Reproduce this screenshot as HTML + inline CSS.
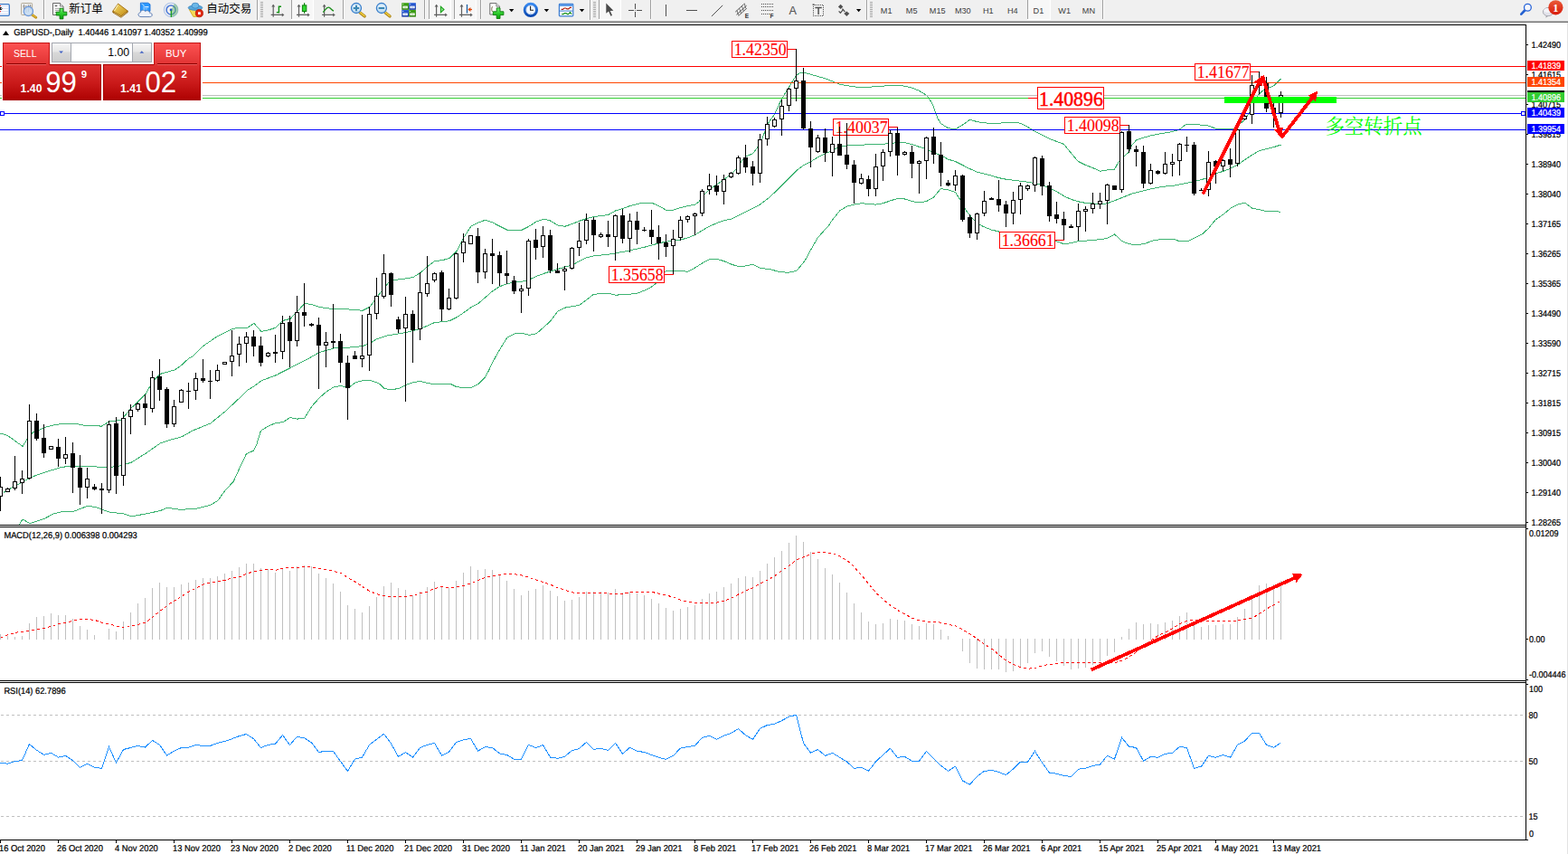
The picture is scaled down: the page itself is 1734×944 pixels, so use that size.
<!DOCTYPE html>
<html><head><meta charset="utf-8"><title>GBPUSD Daily</title>
<style>
html,body{margin:0;padding:0;background:#fff;}
body{width:1734px;height:944px;position:relative;overflow:hidden;font-family:"Liberation Sans",sans-serif;}
.abs{position:absolute}
</style></head><body>
<svg width="1734" height="944" viewBox="0 0 1734 944" style="position:absolute;left:0;top:0" shape-rendering="crispEdges" font-family="Liberation Sans, sans-serif">
<defs><clipPath id="cm"><rect x="0" y="28" width="1687" height="552"/></clipPath><clipPath id="cd"><rect x="0" y="583" width="1687" height="169"/></clipPath></defs>
<g clip-path="url(#cm)">
<polyline points="0.5,479.3 6.4,480.4 13.9,485.3 25.0,493.4 30.2,485.3 36.9,477.5 45.0,474.5 52.4,471.5 61.3,469.5 69.5,468.4 84.3,468.4 94.0,470.4 108.8,470.4 111.8,471.5 121.1,465.7 134.0,464.5 145.1,451.2 161.1,435.6 169.1,421.2 177.1,413.4 193.2,408.9 201.2,403.4 209.2,395.6 212.5,394.7 224.6,382.6 240.7,371.5 257.0,363.5 265.0,362.1 272.9,362.9 280.9,357.4 289.0,366.5 297.0,364.9 305.1,362.1 312.9,354.4 321.0,352.4 328.8,344.3 336.9,335.3 344.9,336.7 353.0,339.3 369.1,341.9 385.0,341.9 400.9,343.3 409.0,339.3 417.0,328.2 424.9,318.2 428.6,313.6 433.0,309.9 449.1,307.9 456.9,306.5 465.0,301.5 473.0,294.4 480.9,288.4 488.9,287.8 497.0,285.4 505.0,277.7 513.1,262.2 520.9,250.2 529.0,246.1 536.8,243.1 544.9,246.1 552.9,250.2 561.0,254.2 577.1,254.2 585.0,250.2 593.0,245.1 601.1,242.1 608.9,244.1 617.0,249.2 625.0,250.2 632.9,247.5 640.6,244.3 648.4,241.7 656.5,239.6 672.6,237.6 680.4,233.0 688.5,230.6 696.5,227.6 704.6,225.5 712.4,224.1 720.5,224.1 728.5,227.6 736.6,232.2 744.4,232.2 752.5,229.6 760.5,227.6 768.6,226.2 773.4,222.5 776.4,217.5 784.5,209.4 792.5,204.0 800.6,198.4 808.4,192.7 813.7,187.3 816.5,182.3 824.5,173.2 832.4,169.8 836.8,164.2 842.5,154.6 848.6,137.5 856.4,126.4 864.5,109.3 872.5,96.2 880.6,83.1 884.8,80.7 888.4,80.1 896.5,82.1 904.5,84.6 912.6,86.8 920.4,89.8 928.5,93.2 936.5,94.6 944.6,95.8 952.4,96.8 960.5,96.2 968.5,95.8 976.6,95.2 984.4,94.2 992.5,94.2 1000.5,95.2 1008.6,97.2 1016.4,100.3 1024.5,105.3 1029.7,112.3 1032.5,118.4 1036.8,130.5 1040.4,136.5 1048.5,141.7 1056.6,142.7 1064.4,138.2 1072.5,132.2 1080.5,134.6 1088.6,135.8 1096.4,136.6 1104.5,136.2 1112.5,135.6 1120.6,135.2 1128.4,136.2 1136.5,140.3 1144.5,145.3 1152.6,149.3 1160.4,153.3 1168.5,156.4 1176.5,159.4 1184.6,169.4 1192.4,178.5 1200.5,182.5 1208.5,185.5 1216.6,189.2 1224.4,188.0 1232.5,187.2 1236.7,179.5 1240.5,174.5 1248.4,168.4 1251.8,160.4 1256.5,155.0 1264.6,152.2 1272.4,150.0 1280.5,148.2 1288.5,147.0 1296.6,145.5 1304.4,143.1 1308.8,139.5 1312.5,137.1 1316.9,137.1 1320.5,137.5 1328.6,138.1 1336.4,139.1 1344.5,142.1 1352.5,142.5 1360.6,142.9 1364.8,142.1 1375.9,132.9 1382.3,123.7 1390.6,106.1 1396.1,100.6 1403.5,96.9 1409.1,94.6 1416.4,87.2" fill="none" stroke="#3cb371" stroke-width="1" />
<polyline points="3.6,544.6 9.4,541.3 16.7,536.8 25.0,533.1 33.2,527.9 48.8,522.4 65.0,517.3 73.0,515.7 89.0,515.3 105.1,515.7 113.1,516.8 129.1,515.7 145.1,511.3 161.1,501.2 177.1,490.1 185.1,487.2 201.2,482.8 212.5,476.2 232.6,468.1 248.7,455.1 264.8,440.0 272.9,431.9 280.9,426.9 289.0,420.8 305.1,414.8 321.0,406.7 336.9,398.7 353.0,389.6 369.1,385.0 385.0,384.2 400.9,382.6 409.0,379.6 417.0,374.5 424.9,372.1 428.6,370.9 441.0,368.9 449.1,367.5 456.9,365.5 465.0,363.5 473.0,359.9 480.9,356.4 488.9,355.8 497.0,354.8 505.0,350.8 513.1,345.4 520.9,339.7 529.0,335.3 536.8,328.7 544.9,321.6 552.9,316.6 561.0,313.6 569.1,312.0 577.1,311.2 585.0,309.1 593.0,305.5 601.1,302.5 608.9,299.9 617.0,297.5 625.0,295.0 632.9,293.0 640.6,288.6 648.4,284.9 656.5,282.9 672.6,281.3 680.4,279.9 696.5,276.9 712.4,273.3 720.5,271.2 728.5,268.8 736.6,267.2 744.4,266.4 752.5,265.2 760.5,262.8 768.6,259.8 776.4,254.7 784.5,250.3 792.5,246.7 800.6,243.7 808.4,242.3 816.5,238.2 824.5,234.2 832.4,230.2 840.5,226.1 848.6,220.0 856.4,213.0 864.5,204.9 872.5,196.9 880.6,188.8 888.4,182.8 896.5,178.8 904.5,173.7 912.6,169.7 920.4,166.7 928.5,161.7 936.5,161.0 944.6,160.6 952.4,160.2 960.5,159.8 968.5,159.6 976.6,159.2 984.4,158.6 992.5,157.6 1000.5,157.6 1008.6,159.6 1016.4,162.3 1024.5,164.7 1032.5,168.7 1040.4,171.7 1048.5,176.1 1056.6,178.5 1064.4,182.5 1072.5,186.6 1080.5,190.2 1088.6,192.2 1096.4,194.2 1104.5,196.6 1112.5,198.2 1120.6,199.2 1128.4,200.2 1136.5,201.2 1144.5,202.7 1152.6,204.7 1160.4,207.7 1168.5,211.7 1176.5,216.7 1184.6,220.4 1192.4,222.8 1200.5,224.4 1208.5,224.8 1216.6,225.8 1224.4,224.8 1232.5,221.8 1240.5,218.6 1252.0,214.0 1263.6,211.1 1275.1,208.3 1286.6,206.2 1298.2,205.1 1309.7,202.8 1321.2,200.5 1333.9,197.1 1336.4,195.3 1344.5,191.8 1352.5,189.4 1360.6,186.4 1368.4,182.4 1376.5,176.7 1384.5,171.3 1392.6,166.7 1400.4,164.7 1408.5,162.7 1416.5,160.0" fill="none" stroke="#3cb371" stroke-width="1" />
<polyline points="21.5,579.7 24.9,574.0 33.2,578.7 49.2,573.3 59.0,568.0 70.7,565.2 81.9,565.2 96.5,559.4 105.8,560.4 120.5,566.0 137.1,568.0 145.1,570.9 161.1,568.0 177.1,564.6 185.1,561.3 199.9,563.4 218.0,562.1 232.2,558.5 240.6,553.7 249.0,542.1 258.1,532.4 265.8,515.6 272.5,501.6 280.7,498.1 283.9,491.0 288.4,476.2 296.8,471.0 305.1,467.5 312.9,466.7 321.0,461.5 328.8,463.1 336.9,462.1 344.9,449.0 353.0,440.0 361.1,432.9 369.1,427.9 377.0,426.5 385.0,428.9 393.1,422.9 400.9,420.8 409.0,420.4 417.0,422.9 420.5,425.0 424.8,429.4 430.0,430.3 435.8,430.3 441.0,429.4 449.1,425.3 454.8,423.4 458.6,422.4 464.4,421.3 472.0,423.4 477.7,424.3 498.2,424.3 503.9,427.2 510.1,428.4 521.1,428.4 529.2,424.3 536.3,417.0 540.5,409.6 544.9,400.1 552.9,386.0 561.0,372.9 569.1,368.9 577.1,368.3 585.0,370.3 593.0,368.9 601.1,361.9 608.9,354.8 617.0,343.8 625.0,340.1 632.9,338.7 640.6,337.3 650.6,330.0 656.5,325.2 672.6,324.2 680.4,326.2 696.5,325.2 704.6,324.2 712.4,321.2 720.5,317.1 725.1,313.5 731.1,305.1 736.6,299.6 744.4,299.0 752.5,299.0 760.5,300.4 768.6,296.0 776.4,291.0 784.5,286.9 792.5,286.3 800.6,288.6 808.4,292.0 816.5,294.6 824.5,294.0 832.1,292.3 841.0,296.4 850.7,297.5 861.8,300.4 871.5,301.4 881.1,299.2 890.0,288.4 899.7,270.6 904.1,263.2 913.7,252.1 916.0,250.0 920.4,243.2 928.5,233.1 936.5,228.1 944.6,226.1 952.4,224.7 960.5,225.5 968.5,226.1 976.6,224.7 984.4,222.0 992.5,219.4 1000.5,220.0 1008.6,222.6 1016.4,224.0 1024.5,222.6 1032.5,218.0 1040.4,208.6 1048.5,209.7 1056.6,212.7 1060.6,218.8 1064.4,224.8 1068.6,232.9 1072.5,237.9 1076.7,242.9 1080.5,246.9 1088.6,251.0 1096.4,254.0 1104.5,256.0 1114.9,258.0 1127.0,260.0 1139.1,262.0 1151.2,264.0 1161.2,265.5 1169.3,267.1 1176.5,269.7 1184.6,268.7 1192.4,266.7 1200.5,266.1 1208.5,265.5 1216.6,264.7 1224.4,263.4 1232.5,259.0 1236.7,262.6 1240.5,266.5 1248.6,269.7 1257.8,270.8 1265.9,269.4 1275.1,265.9 1285.5,264.4 1298.2,264.4 1303.9,266.5 1313.7,266.5 1321.2,263.1 1329.3,259.0 1336.2,252.7 1344.3,242.9 1353.5,236.5 1361.6,229.6 1368.5,226.1 1376.6,224.2 1384.7,230.2 1390.4,231.3 1399.7,233.3 1411.2,233.3 1416.4,234.6" fill="none" stroke="#3cb371" stroke-width="1" />
<rect x="0" y="105" width="1687" height="1" fill="#c0c0c0"/>
<rect x="0" y="73" width="1687" height="1" fill="#ff0000"/>
<rect x="0" y="91" width="1687" height="1" fill="#ff4500"/>
<rect x="0" y="108" width="1137" height="1" fill="#32cd32"/>
<rect x="1137" y="108" width="10" height="1" fill="#ff0000"/>
<rect x="1221" y="108" width="466" height="1" fill="#32cd32"/>
<rect x="0" y="125" width="1687" height="1" fill="#0000ff"/>
<rect x="0" y="143" width="1687" height="1" fill="#0000ff"/>
<rect x="0" y="123" width="5" height="5" fill="#0000ff"/>
<rect x="1" y="124" width="3" height="3" fill="#ffffff"/>
<rect x="1682" y="123" width="5" height="5" fill="#0000ff"/>
<rect x="1683" y="124" width="3" height="3" fill="#ffffff"/>
</g>
<rect x="809" y="45" width="62" height="19" fill="#ff0000"/>
<rect x="810" y="46" width="60" height="17" fill="#ffffff"/>
<text transform="translate(811.7,61) scale(0.94,1)" font-family="Liberation Serif, serif" font-size="19" fill="#ff0000" stroke="#ff0000" stroke-width="0.12" shape-rendering="auto">1.42350</text>
<rect x="871" y="54" width="10" height="1" fill="#ff0000"/>
<rect x="921" y="131" width="62" height="19" fill="#ff0000"/>
<rect x="922" y="132" width="60" height="17" fill="#ffffff"/>
<text transform="translate(923.7,147) scale(0.94,1)" font-family="Liberation Serif, serif" font-size="19" fill="#ff0000" stroke="#ff0000" stroke-width="0.12" shape-rendering="auto">1.40037</text>
<rect x="983" y="140" width="10" height="1" fill="#ff0000"/>
<rect x="673" y="294" width="62" height="19" fill="#ff0000"/>
<rect x="674" y="295" width="60" height="17" fill="#ffffff"/>
<text transform="translate(675.7,310) scale(0.94,1)" font-family="Liberation Serif, serif" font-size="19" fill="#ff0000" stroke="#ff0000" stroke-width="0.12" shape-rendering="auto">1.35658</text>
<rect x="735" y="303" width="10" height="1" fill="#ff0000"/>
<rect x="1105" y="256" width="62" height="19" fill="#ff0000"/>
<rect x="1106" y="257" width="60" height="17" fill="#ffffff"/>
<text transform="translate(1107.7,272) scale(0.94,1)" font-family="Liberation Serif, serif" font-size="19" fill="#ff0000" stroke="#ff0000" stroke-width="0.12" shape-rendering="auto">1.36661</text>
<rect x="1167" y="265" width="10" height="1" fill="#ff0000"/>
<rect x="1177" y="129" width="62" height="19" fill="#ff0000"/>
<rect x="1178" y="130" width="60" height="17" fill="#ffffff"/>
<text transform="translate(1179.7,145) scale(0.94,1)" font-family="Liberation Serif, serif" font-size="19" fill="#ff0000" stroke="#ff0000" stroke-width="0.12" shape-rendering="auto">1.40098</text>
<rect x="1239" y="138" width="10" height="1" fill="#ff0000"/>
<rect x="1321" y="70" width="62" height="19" fill="#ff0000"/>
<rect x="1322" y="71" width="60" height="17" fill="#ffffff"/>
<text transform="translate(1323.7,86) scale(0.94,1)" font-family="Liberation Serif, serif" font-size="19" fill="#ff0000" stroke="#ff0000" stroke-width="0.12" shape-rendering="auto">1.41677</text>
<rect x="1383" y="79" width="10" height="1" fill="#ff0000"/>
<rect x="1147" y="96" width="74" height="25" fill="#ff0000"/>
<rect x="1148" y="97" width="72" height="23" fill="#ffffff"/>
<text transform="translate(1149.0,116.9) scale(0.935,1)" font-family="Liberation Serif, serif" font-size="23.3" fill="#ff0000" stroke="#ff0000" stroke-width="0.5" shape-rendering="auto">1.40896</text>
<g clip-path="url(#cm)">
<path d="M0 527h1v38h-1zM-2 538h5v11h-5zM8 539h1v5h-1zM6 540h5v4h-5zM16 504h1v38h-1zM14 532h5v8h-5zM24 520h1v26h-1zM22 529h5v5h-5zM32 447h1v83h-1zM30 465h5v64h-5zM40 457h1v30h-1zM38 465h5v20h-5zM48 469h1v37h-1zM46 484h5v17h-5zM56 493h1v4h-1zM54 493h5v4h-5zM64 485h1v31h-1zM62 494h5v13h-5zM72 483h1v30h-1zM70 502h5v5h-5zM80 489h1v56h-1zM78 501h5v16h-5zM88 503h1v55h-1zM86 517h5v22h-5zM96 517h1v34h-1zM94 529h5v10h-5zM104 535h1v7h-1zM102 538h5v3h-5zM112 534h1v34h-1zM110 540h5v2h-5zM120 465h1v80h-1zM118 469h5v73h-5zM128 461h1v85h-1zM126 468h5v58h-5zM136 455h1v82h-1zM134 462h5v64h-5zM144 447h1v33h-1zM142 453h5v8h-5zM152 445h1v10h-1zM150 446h5v7h-5zM160 436h1v34h-1zM158 446h5v5h-5zM168 410h1v46h-1zM166 417h5v35h-5zM176 397h1v46h-1zM174 416h5v15h-5zM184 428h1v45h-1zM182 430h5v39h-5zM192 442h1v30h-1zM190 449h5v20h-5zM200 430h1v15h-1zM198 431h5v14h-5zM208 423h1v29h-1zM206 432h5v1h-5zM216 412h1v30h-1zM214 418h5v14h-5zM224 397h1v26h-1zM222 418h5v3h-5zM232 409h1v32h-1zM230 421h5v1h-5zM240 403h1v19h-1zM238 409h5v12h-5zM248 400h1v3h-1zM246 400h5v3h-5zM256 365h1v51h-1zM254 393h5v7h-5zM264 372h1v33h-1zM262 380h5v12h-5zM272 367h1v34h-1zM270 372h5v8h-5zM280 365h1v29h-1zM278 372h5v11h-5zM288 372h1v33h-1zM286 382h5v19h-5zM296 389h1v6h-1zM294 390h5v4h-5zM304 370h1v31h-1zM302 389h5v2h-5zM312 349h1v48h-1zM310 357h5v32h-5zM320 349h1v57h-1zM318 356h5v21h-5zM328 327h1v56h-1zM326 345h5v32h-5zM336 313h1v48h-1zM334 345h5v4h-5zM344 357h1v4h-1zM342 358h5v2h-5zM352 351h1v79h-1zM350 359h5v23h-5zM360 367h1v39h-1zM358 378h5v4h-5zM368 336h1v49h-1zM366 377h5v2h-5zM376 369h1v54h-1zM374 377h5v24h-5zM384 393h1v71h-1zM382 401h5v28h-5zM392 388h1v9h-1zM390 393h5v4h-5zM400 348h1v58h-1zM398 393h5v4h-5zM408 339h1v71h-1zM406 347h5v46h-5zM416 307h1v46h-1zM414 327h5v20h-5zM424 281h1v49h-1zM422 302h5v26h-5zM432 301h1v38h-1zM430 302h5v24h-5zM440 350h1v18h-1zM438 353h5v11h-5zM448 328h1v116h-1zM446 347h5v16h-5zM456 343h1v58h-1zM454 347h5v18h-5zM464 301h1v75h-1zM462 323h5v41h-5zM472 283h1v45h-1zM470 313h5v12h-5zM480 301h1v11h-1zM478 302h5v8h-5zM488 299h1v56h-1zM486 301h5v41h-5zM496 319h1v24h-1zM494 329h5v13h-5zM504 279h1v52h-1zM502 280h5v50h-5zM512 258h1v32h-1zM510 267h5v13h-5zM520 260h1v10h-1zM518 260h5v10h-5zM528 252h1v61h-1zM526 261h5v40h-5zM536 275h1v33h-1zM534 280h5v21h-5zM544 264h1v50h-1zM542 280h5v3h-5zM552 278h1v38h-1zM550 282h5v20h-5zM560 277h1v37h-1zM558 302h5v3h-5zM568 305h1v20h-1zM566 310h5v12h-5zM576 315h1v31h-1zM574 319h5v3h-5zM584 264h1v63h-1zM582 266h5v53h-5zM592 253h1v34h-1zM590 265h5v9h-5zM600 250h1v35h-1zM598 260h5v13h-5zM608 254h1v48h-1zM606 260h5v39h-5zM616 291h1v11h-1zM614 299h5v3h-5zM624 294h1v27h-1zM622 297h5v3h-5zM632 273h1v25h-1zM630 274h5v23h-5zM640 246h1v37h-1zM638 266h5v8h-5zM648 236h1v34h-1zM646 243h5v23h-5zM656 240h1v38h-1zM654 243h5v17h-5zM664 257h1v6h-1zM662 259h5v3h-5zM672 244h1v29h-1zM670 259h5v3h-5zM680 237h1v51h-1zM678 238h5v24h-5zM688 231h1v38h-1zM686 238h5v26h-5zM696 236h1v43h-1zM694 244h5v20h-5zM704 234h1v36h-1zM702 244h5v10h-5zM712 251h1v5h-1zM710 254h5v1h-5zM720 232h1v38h-1zM718 254h5v8h-5zM728 249h1v38h-1zM726 262h5v7h-5zM736 259h1v25h-1zM734 268h5v5h-5zM744 254h1v49h-1zM742 264h5v8h-5zM752 239h1v27h-1zM750 243h5v20h-5zM760 238h1v8h-1zM758 239h5v4h-5zM768 235h1v25h-1zM766 236h5v3h-5zM776 209h1v30h-1zM774 211h5v25h-5zM784 192h1v23h-1zM782 205h5v5h-5zM792 194h1v22h-1zM790 205h5v7h-5zM800 193h1v33h-1zM798 198h5v14h-5zM808 190h1v7h-1zM806 191h5v5h-5zM816 172h1v21h-1zM814 174h5v18h-5zM824 160h1v31h-1zM822 174h5v11h-5zM832 178h1v27h-1zM830 184h5v8h-5zM840 148h1v54h-1zM838 154h5v38h-5zM848 129h1v32h-1zM846 137h5v17h-5zM856 130h1v11h-1zM854 132h5v8h-5zM864 110h1v40h-1zM862 117h5v15h-5zM872 97h1v26h-1zM870 98h5v19h-5zM880 54h1v58h-1zM878 89h5v9h-5zM888 75h1v68h-1zM886 89h5v53h-5zM896 134h1v51h-1zM894 142h5v21h-5zM904 149h1v20h-1zM902 152h5v16h-5zM912 142h1v37h-1zM910 152h5v17h-5zM920 151h1v44h-1zM918 159h5v10h-5zM928 140h1v32h-1zM926 159h5v13h-5zM936 136h1v51h-1zM934 171h5v11h-5zM944 177h1v48h-1zM942 182h5v20h-5zM952 192h1v12h-1zM950 197h5v6h-5zM960 194h1v23h-1zM958 198h5v11h-5zM968 170h1v47h-1zM966 184h5v25h-5zM976 165h1v35h-1zM974 168h5v16h-5zM984 144h1v29h-1zM982 147h5v21h-5zM992 141h1v53h-1zM990 147h5v25h-5zM1000 167h1v5h-1zM998 168h5v3h-5zM1008 161h1v36h-1zM1006 168h5v13h-5zM1016 177h1v37h-1zM1014 178h5v3h-5zM1024 151h1v47h-1zM1022 152h5v26h-5zM1032 141h1v40h-1zM1030 151h5v20h-5zM1040 157h1v49h-1zM1038 171h5v20h-5zM1048 199h1v7h-1zM1046 202h5v3h-5zM1056 188h1v23h-1zM1054 194h5v11h-5zM1064 193h1v52h-1zM1062 194h5v49h-5zM1072 237h1v26h-1zM1070 240h5v18h-5zM1080 235h1v30h-1zM1078 236h5v22h-5zM1088 211h1v28h-1zM1086 222h5v14h-5zM1096 218h1v3h-1zM1094 219h5v2h-5zM1104 199h1v35h-1zM1102 220h5v7h-5zM1112 222h1v29h-1zM1110 226h5v10h-5zM1120 212h1v36h-1zM1118 221h5v15h-5zM1128 202h1v35h-1zM1126 205h5v16h-5zM1136 204h1v7h-1zM1134 205h5v4h-5zM1144 173h1v39h-1zM1142 174h5v31h-5zM1152 172h1v44h-1zM1150 175h5v31h-5zM1160 201h1v44h-1zM1158 205h5v34h-5zM1168 223h1v24h-1zM1166 237h5v5h-5zM1176 234h1v31h-1zM1174 242h5v7h-5zM1184 248h1v3h-1zM1182 250h5v2h-5zM1192 225h1v41h-1zM1190 233h5v18h-5zM1200 228h1v28h-1zM1198 231h5v3h-5zM1208 213h1v23h-1zM1206 225h5v6h-5zM1216 213h1v18h-1zM1214 222h5v4h-5zM1224 203h1v45h-1zM1222 204h5v18h-5zM1232 205h1v5h-1zM1230 205h5v5h-5zM1240 145h1v68h-1zM1238 146h5v64h-5zM1248 138h1v31h-1zM1246 145h5v20h-5zM1256 161h1v23h-1zM1254 165h5v3h-5zM1264 161h1v47h-1zM1262 168h5v35h-5zM1272 181h1v23h-1zM1270 188h5v15h-5zM1280 188h1v5h-1zM1278 189h5v3h-5zM1288 168h1v25h-1zM1286 181h5v11h-5zM1296 170h1v25h-1zM1294 179h5v3h-5zM1304 158h1v36h-1zM1302 159h5v19h-5zM1312 151h1v17h-1zM1310 160h5v1h-5zM1320 157h1v59h-1zM1318 160h5v54h-5zM1328 208h1v3h-1zM1326 210h5v1h-5zM1336 167h1v50h-1zM1334 179h5v31h-5zM1344 177h1v26h-1zM1342 178h5v6h-5zM1352 176h1v13h-1zM1350 177h5v7h-5zM1360 164h1v32h-1zM1358 176h5v6h-5zM1368 143h1v41h-1zM1366 143h5v38h-5zM1376 127h1v6h-1zM1374 128h5v4h-5zM1384 83h1v54h-1zM1382 94h5v33h-5zM1392 79h1v25h-1zM1390 92h5v3h-5zM1400 85h1v39h-1zM1398 92h5v28h-5zM1408 113h1v28h-1zM1406 119h5v7h-5zM1416 101h1v29h-1zM1414 105h5v20h-5z" fill="#000"/>
<path d="M-1 539h3v9h-3zM7 541h3v2h-3zM15 533h3v6h-3zM23 530h3v3h-3zM31 466h3v62h-3zM55 494h3v2h-3zM71 503h3v3h-3zM95 530h3v8h-3zM119 470h3v71h-3zM135 463h3v62h-3zM143 454h3v6h-3zM151 447h3v5h-3zM167 418h3v33h-3zM191 450h3v18h-3zM199 432h3v12h-3zM215 419h3v12h-3zM239 410h3v10h-3zM247 401h3v1h-3zM255 394h3v5h-3zM263 381h3v10h-3zM271 373h3v6h-3zM295 391h3v2h-3zM311 358h3v30h-3zM327 346h3v30h-3zM359 379h3v2h-3zM399 394h3v2h-3zM407 348h3v44h-3zM415 328h3v18h-3zM423 303h3v24h-3zM447 348h3v14h-3zM463 324h3v39h-3zM471 314h3v10h-3zM479 303h3v6h-3zM495 330h3v11h-3zM503 281h3v48h-3zM511 268h3v11h-3zM519 261h3v8h-3zM535 281h3v19h-3zM575 320h3v1h-3zM583 267h3v51h-3zM599 261h3v11h-3zM623 298h3v1h-3zM631 275h3v21h-3zM639 267h3v6h-3zM647 244h3v21h-3zM663 260h3v1h-3zM679 239h3v22h-3zM695 245h3v18h-3zM743 265h3v6h-3zM751 244h3v18h-3zM759 240h3v2h-3zM767 237h3v1h-3zM775 212h3v23h-3zM783 206h3v3h-3zM799 199h3v12h-3zM807 192h3v3h-3zM815 175h3v16h-3zM839 155h3v36h-3zM847 138h3v15h-3zM855 133h3v6h-3zM863 118h3v13h-3zM871 99h3v17h-3zM879 90h3v7h-3zM903 153h3v14h-3zM919 160h3v8h-3zM951 198h3v4h-3zM967 185h3v23h-3zM975 169h3v14h-3zM983 148h3v19h-3zM999 169h3v1h-3zM1015 179h3v1h-3zM1023 153h3v24h-3zM1055 195h3v9h-3zM1079 237h3v20h-3zM1087 223h3v12h-3zM1119 222h3v13h-3zM1127 206h3v14h-3zM1135 206h3v2h-3zM1143 175h3v29h-3zM1191 234h3v16h-3zM1199 232h3v1h-3zM1207 226h3v4h-3zM1215 223h3v2h-3zM1223 205h3v16h-3zM1239 147h3v62h-3zM1271 189h3v13h-3zM1287 182h3v9h-3zM1295 180h3v1h-3zM1303 160h3v17h-3zM1335 180h3v29h-3zM1351 178h3v5h-3zM1367 144h3v36h-3zM1375 129h3v2h-3zM1383 95h3v31h-3zM1391 93h3v1h-3zM1415 106h3v18h-3z" fill="#fff"/>
<rect x="1354" y="107" width="124" height="7" fill="#00ff00"/>
<line x1="1330.2" y1="214.8" x2="1392.2" y2="91.4" stroke="#ff0000" stroke-width="3.8"/>
<polygon points="1396.0,83.8 1396.0,95.5 1386.6,90.8" fill="#ff0000"/>
<line x1="1396.0" y1="83.8" x2="1414.5" y2="144.1" stroke="#ff0000" stroke-width="3.8"/>
<polygon points="1417.0,152.2 1408.9,143.7 1418.9,140.6" fill="#ff0000"/>
<line x1="1417.0" y1="152.2" x2="1452.0" y2="107.1" stroke="#ff0000" stroke-width="3.8"/>
<polygon points="1457.2,100.4 1454.9,111.9 1446.6,105.5" fill="#ff0000"/>
</g>
<text x="1465.4" y="146.7" font-family="Liberation Serif, Noto Serif CJK SC, serif" font-size="21.45" fill="#00ff00" shape-rendering="auto">多空转折点</text>
<rect x="0" y="27" width="1688" height="1" fill="#000"/>
<rect x="1687" y="27" width="1" height="902" fill="#000"/>
<rect x="0" y="580" width="1688" height="1" fill="#000"/>
<rect x="0" y="582" width="1688" height="1" fill="#000"/>
<rect x="0" y="752" width="1688" height="1" fill="#000"/>
<rect x="0" y="754" width="1688" height="1" fill="#000"/>
<rect x="0" y="928" width="1688" height="1" fill="#000"/>
<rect x="1688" y="49" width="2" height="1" fill="#000"/>
<text transform="translate(1693.5,52.9) scale(0.9,1)" font-size="10" fill="#000" stroke="#000" stroke-width="0.24" text-rendering="geometricPrecision" >1.42490</text>
<rect x="1688" y="82" width="2" height="1" fill="#000"/>
<text transform="translate(1693.5,85.9) scale(0.9,1)" font-size="10" fill="#000" stroke="#000" stroke-width="0.24" text-rendering="geometricPrecision" >1.41615</text>
<rect x="1688" y="115" width="2" height="1" fill="#000"/>
<text transform="translate(1693.5,118.9) scale(0.9,1)" font-size="10" fill="#000" stroke="#000" stroke-width="0.24" text-rendering="geometricPrecision" >1.40715</text>
<rect x="1688" y="148" width="2" height="1" fill="#000"/>
<text transform="translate(1693.5,151.9) scale(0.9,1)" font-size="10" fill="#000" stroke="#000" stroke-width="0.24" text-rendering="geometricPrecision" >1.39815</text>
<rect x="1688" y="181" width="2" height="1" fill="#000"/>
<text transform="translate(1693.5,184.9) scale(0.9,1)" font-size="10" fill="#000" stroke="#000" stroke-width="0.24" text-rendering="geometricPrecision" >1.38940</text>
<rect x="1688" y="214" width="2" height="1" fill="#000"/>
<text transform="translate(1693.5,217.9) scale(0.9,1)" font-size="10" fill="#000" stroke="#000" stroke-width="0.24" text-rendering="geometricPrecision" >1.38040</text>
<rect x="1688" y="247" width="2" height="1" fill="#000"/>
<text transform="translate(1693.5,250.9) scale(0.9,1)" font-size="10" fill="#000" stroke="#000" stroke-width="0.24" text-rendering="geometricPrecision" >1.37165</text>
<rect x="1688" y="280" width="2" height="1" fill="#000"/>
<text transform="translate(1693.5,283.9) scale(0.9,1)" font-size="10" fill="#000" stroke="#000" stroke-width="0.24" text-rendering="geometricPrecision" >1.36265</text>
<rect x="1688" y="313" width="2" height="1" fill="#000"/>
<text transform="translate(1693.5,316.9) scale(0.9,1)" font-size="10" fill="#000" stroke="#000" stroke-width="0.24" text-rendering="geometricPrecision" >1.35365</text>
<rect x="1688" y="346" width="2" height="1" fill="#000"/>
<text transform="translate(1693.5,349.9) scale(0.9,1)" font-size="10" fill="#000" stroke="#000" stroke-width="0.24" text-rendering="geometricPrecision" >1.34490</text>
<rect x="1688" y="379" width="2" height="1" fill="#000"/>
<text transform="translate(1693.5,382.9) scale(0.9,1)" font-size="10" fill="#000" stroke="#000" stroke-width="0.24" text-rendering="geometricPrecision" >1.33590</text>
<rect x="1688" y="412" width="2" height="1" fill="#000"/>
<text transform="translate(1693.5,415.9) scale(0.9,1)" font-size="10" fill="#000" stroke="#000" stroke-width="0.24" text-rendering="geometricPrecision" >1.32715</text>
<rect x="1688" y="445" width="2" height="1" fill="#000"/>
<text transform="translate(1693.5,448.9) scale(0.9,1)" font-size="10" fill="#000" stroke="#000" stroke-width="0.24" text-rendering="geometricPrecision" >1.31815</text>
<rect x="1688" y="478" width="2" height="1" fill="#000"/>
<text transform="translate(1693.5,481.9) scale(0.9,1)" font-size="10" fill="#000" stroke="#000" stroke-width="0.24" text-rendering="geometricPrecision" >1.30915</text>
<rect x="1688" y="511" width="2" height="1" fill="#000"/>
<text transform="translate(1693.5,514.9) scale(0.9,1)" font-size="10" fill="#000" stroke="#000" stroke-width="0.24" text-rendering="geometricPrecision" >1.30040</text>
<rect x="1688" y="544" width="2" height="1" fill="#000"/>
<text transform="translate(1693.5,547.9) scale(0.9,1)" font-size="10" fill="#000" stroke="#000" stroke-width="0.24" text-rendering="geometricPrecision" >1.29140</text>
<rect x="1688" y="577" width="2" height="1" fill="#000"/>
<text transform="translate(1693.5,580.9) scale(0.9,1)" font-size="10" fill="#000" stroke="#000" stroke-width="0.24" text-rendering="geometricPrecision" >1.28265</text>
<rect x="1689" y="100" width="41" height="11" fill="#000"/>
<rect x="1689" y="67" width="41" height="11" fill="#ff0000"/>
<text transform="translate(1693.5,75.6) scale(0.9,1)" font-size="10" fill="#fff" stroke="#fff" stroke-width="0.24" text-rendering="geometricPrecision" >1.41839</text>
<rect x="1689" y="85" width="41" height="11" fill="#ff4500"/>
<text transform="translate(1693.5,93.6) scale(0.9,1)" font-size="10" fill="#fff" stroke="#fff" stroke-width="0.24" text-rendering="geometricPrecision" >1.41354</text>
<rect x="1689" y="102" width="41" height="11" fill="#32cd32"/>
<text transform="translate(1693.5,110.6) scale(0.9,1)" font-size="10" fill="#fff" stroke="#fff" stroke-width="0.24" text-rendering="geometricPrecision" >1.40896</text>
<rect x="1689" y="119" width="41" height="11" fill="#0000ff"/>
<text transform="translate(1693.5,127.6) scale(0.9,1)" font-size="10" fill="#fff" stroke="#fff" stroke-width="0.24" text-rendering="geometricPrecision" >1.40439</text>
<rect x="1689" y="137" width="41" height="11" fill="#0000ff"/>
<text transform="translate(1693.5,145.6) scale(0.9,1)" font-size="10" fill="#fff" stroke="#fff" stroke-width="0.24" text-rendering="geometricPrecision" >1.39954</text>
<rect x="1688" y="584" width="2" height="1" fill="#000"/>
<text transform="translate(1691,593) scale(0.9,1)" font-size="10" fill="#000" stroke="#000" stroke-width="0.24" text-rendering="geometricPrecision" >0.01209</text>
<rect x="1688" y="706" width="2" height="1" fill="#000"/>
<text transform="translate(1691,709.8) scale(0.9,1)" font-size="10" fill="#000" stroke="#000" stroke-width="0.24" text-rendering="geometricPrecision" >0.00</text>
<rect x="1688" y="751" width="2" height="1" fill="#000"/>
<text transform="translate(1691,748.6) scale(0.9,1)" font-size="10" fill="#000" stroke="#000" stroke-width="0.24" text-rendering="geometricPrecision" >-0.004446</text>
<rect x="1688" y="756" width="2" height="1" fill="#000"/>
<text transform="translate(1691,765) scale(0.9,1)" font-size="10" fill="#000" stroke="#000" stroke-width="0.24" text-rendering="geometricPrecision" >100</text>
<text transform="translate(1690.5,793.8) scale(0.9,1)" font-size="10" fill="#000" stroke="#000" stroke-width="0.24" text-rendering="geometricPrecision" >80</text>
<text transform="translate(1690.5,844.8) scale(0.9,1)" font-size="10" fill="#000" stroke="#000" stroke-width="0.24" text-rendering="geometricPrecision" >50</text>
<text transform="translate(1690.5,905.8) scale(0.9,1)" font-size="10" fill="#000" stroke="#000" stroke-width="0.24" text-rendering="geometricPrecision" >15</text>
<text transform="translate(1691,925) scale(0.9,1)" font-size="10" fill="#000" stroke="#000" stroke-width="0.24" text-rendering="geometricPrecision" >0</text>
<rect x="1688" y="928" width="2" height="1" fill="#000"/>
<rect x="1733" y="25" width="1" height="919" fill="#e3e3e3"/>
<path d="M0 701h1v6h-1zM8 703h1v4h-1zM16 704h1v3h-1zM24 703h1v4h-1zM32 689h1v18h-1zM40 682h1v25h-1zM48 681h1v26h-1zM56 678h1v29h-1zM64 680h1v27h-1zM72 680h1v27h-1zM80 684h1v23h-1zM88 692h1v15h-1zM96 696h1v11h-1zM104 702h1v5h-1zM120 695h1v12h-1zM128 698h1v9h-1zM136 687h1v20h-1zM144 677h1v30h-1zM152 667h1v40h-1zM160 661h1v46h-1zM168 650h1v57h-1zM176 644h1v63h-1zM184 649h1v58h-1zM192 649h1v58h-1zM200 646h1v61h-1zM208 644h1v63h-1zM216 641h1v66h-1zM224 639h1v68h-1zM232 639h1v68h-1zM240 637h1v70h-1zM248 634h1v73h-1zM256 631h1v76h-1zM264 627h1v80h-1zM272 623h1v84h-1zM280 623h1v84h-1zM288 628h1v79h-1zM296 629h1v78h-1zM304 633h1v74h-1zM312 629h1v78h-1zM320 631h1v76h-1zM328 626h1v81h-1zM336 625h1v82h-1zM344 626h1v81h-1zM352 634h1v73h-1zM360 639h1v68h-1zM368 645h1v62h-1zM376 654h1v53h-1zM384 669h1v38h-1zM392 673h1v34h-1zM400 677h1v30h-1zM408 670h1v37h-1zM416 660h1v47h-1zM424 648h1v59h-1zM432 644h1v63h-1zM440 650h1v57h-1zM448 652h1v55h-1zM456 658h1v49h-1zM464 654h1v53h-1zM472 649h1v58h-1zM480 643h1v64h-1zM488 649h1v58h-1zM496 650h1v57h-1zM504 642h1v65h-1zM512 633h1v74h-1zM520 626h1v81h-1zM528 630h1v77h-1zM536 629h1v78h-1zM544 630h1v77h-1zM552 636h1v71h-1zM560 642h1v65h-1zM568 651h1v56h-1zM576 658h1v49h-1zM584 653h1v54h-1zM592 651h1v56h-1zM600 647h1v60h-1zM608 653h1v54h-1zM616 659h1v48h-1zM624 664h1v43h-1zM632 663h1v44h-1zM640 660h1v47h-1zM648 654h1v53h-1zM656 654h1v53h-1zM664 654h1v53h-1zM672 655h1v52h-1zM680 651h1v56h-1zM688 655h1v52h-1zM696 654h1v53h-1zM704 656h1v51h-1zM712 658h1v49h-1zM720 662h1v45h-1zM728 667h1v40h-1zM736 672h1v35h-1zM744 675h1v32h-1zM752 673h1v34h-1zM760 671h1v36h-1zM768 669h1v38h-1zM776 662h1v45h-1zM784 656h1v51h-1zM792 654h1v53h-1zM800 649h1v58h-1zM808 645h1v62h-1zM816 639h1v68h-1zM824 637h1v70h-1zM832 638h1v69h-1zM840 631h1v76h-1zM848 623h1v84h-1zM856 616h1v91h-1zM864 609h1v98h-1zM872 600h1v107h-1zM880 592h1v115h-1zM888 599h1v108h-1zM896 610h1v97h-1zM904 618h1v89h-1zM912 628h1v79h-1zM920 635h1v72h-1zM928 644h1v63h-1zM936 655h1v52h-1zM944 667h1v40h-1zM952 677h1v30h-1zM960 687h1v20h-1zM968 690h1v17h-1zM976 689h1v18h-1zM984 684h1v23h-1zM992 685h1v22h-1zM1000 686h1v21h-1zM1008 690h1v17h-1zM1016 692h1v15h-1zM1024 689h1v18h-1zM1032 690h1v17h-1zM1040 696h1v11h-1zM1048 703h1v4h-1zM1064 706h1v14h-1zM1072 706h1v27h-1zM1080 706h1v33h-1zM1088 706h1v34h-1zM1096 706h1v34h-1zM1104 706h1v34h-1zM1112 706h1v37h-1zM1120 706h1v36h-1zM1128 706h1v31h-1zM1136 706h1v27h-1zM1144 706h1v16h-1zM1152 706h1v14h-1zM1160 706h1v20h-1zM1168 706h1v25h-1zM1176 706h1v30h-1zM1184 706h1v34h-1zM1192 706h1v33h-1zM1200 706h1v32h-1zM1208 706h1v29h-1zM1216 706h1v25h-1zM1224 706h1v19h-1zM1232 706h1v15h-1zM1240 704h1v3h-1zM1248 695h1v12h-1zM1256 688h1v19h-1zM1264 690h1v17h-1zM1272 689h1v18h-1zM1280 690h1v17h-1zM1288 688h1v19h-1zM1296 686h1v21h-1zM1304 681h1v26h-1zM1312 677h1v30h-1zM1320 687h1v20h-1zM1328 693h1v14h-1zM1336 691h1v16h-1zM1344 691h1v16h-1zM1352 690h1v17h-1zM1360 690h1v17h-1zM1368 682h1v25h-1zM1376 673h1v34h-1zM1384 661h1v46h-1zM1392 647h1v60h-1zM1400 645h1v62h-1zM1408 646h1v61h-1zM1416 642h1v65h-1z" fill="#c0c0c0"/>
<polyline points="0.5,705.3 9.0,701.7 16.9,699.4 25.0,698.1 32.9,697.2 41.0,695.8 48.9,694.5 56.8,692.2 64.9,689.7 72.9,688.6 81.0,686.1 88.9,684.4 97.0,684.4 104.9,685.5 113.0,688.2 120.9,689.7 128.9,692.4 137.0,693.8 144.9,692.2 153.0,690.2 160.9,688.2 169.0,681.9 176.9,675.6 185.0,669.3 192.9,663.9 201.0,659.0 209.0,654.0 216.9,650.0 225.0,645.9 232.9,644.1 241.0,642.7 248.9,641.4 257.0,638.7 264.9,637.8 273.0,634.2 281.0,631.5 288.9,630.2 297.0,629.7 304.9,630.2 313.0,628.4 320.9,627.5 329.0,627.4 336.9,626.1 345.0,627.4 352.9,628.4 360.8,629.3 368.9,631.5 376.9,633.3 385.0,638.7 392.9,643.2 401.0,648.6 408.9,653.6 417.0,656.7 424.9,658.5 432.9,659.4 441.0,659.9 448.9,659.4 457.0,658.1 464.9,655.8 473.0,654.0 480.9,650.4 489.0,648.6 496.9,649.5 505.0,649.1 513.0,647.2 520.9,645.0 529.0,641.4 536.9,638.2 545.0,636.5 552.9,635.3 561.0,634.6 568.9,634.6 577.0,636.0 585.0,638.2 592.9,641.0 601.0,643.6 608.9,646.3 617.0,650.0 624.9,652.2 633.0,654.9 640.9,655.8 649.0,655.3 656.9,655.3 664.8,655.3 672.9,656.0 680.9,656.2 689.0,656.2 696.9,654.9 705.0,654.4 712.9,654.4 721.0,654.4 728.9,656.3 736.9,658.0 745.0,660.3 752.9,663.4 761.0,664.8 768.9,666.2 777.0,667.0 784.9,666.2 793.0,666.1 800.9,664.3 809.0,661.2 817.0,656.7 824.9,653.1 833.0,649.5 840.9,645.0 849.0,641.0 856.9,636.5 865.0,630.6 872.9,625.2 881.0,618.9 889.0,615.7 896.9,612.2 905.0,610.4 912.9,610.8 921.0,611.7 928.9,614.9 937.0,619.8 944.9,627.0 953.0,636.0 960.9,645.9 968.8,655.4 976.9,663.0 984.9,669.3 993.0,674.7 1000.9,679.2 1009.0,683.4 1016.9,686.1 1025.0,687.3 1032.9,687.3 1040.9,688.2 1049.0,690.6 1056.9,691.8 1065.0,696.3 1072.9,700.8 1081.0,706.6 1088.9,712.5 1097.0,717.4 1104.9,723.9 1113.0,730.5 1121.0,734.7 1128.9,737.7 1137.0,739.2 1144.9,738.3 1153.0,735.6 1160.9,734.5 1169.0,733.2 1176.9,732.5 1185.0,732.3 1193.0,732.3 1200.9,732.3 1209.0,732.3 1216.9,732.7 1225.0,732.9 1232.9,732.9 1241.0,730.0 1248.9,726.0 1256.8,720.6 1264.9,714.3 1272.9,708.0 1281.0,702.3 1288.9,699.0 1297.0,694.5 1304.9,689.7 1313.0,685.9 1320.9,685.5 1328.9,685.9 1337.0,686.1 1344.9,686.1 1353.0,686.2 1360.9,686.2 1369.0,686.1 1376.9,684.6 1385.0,683.2 1392.9,678.3 1401.0,672.9 1409.0,668.4 1416.9,663.9" fill="none" stroke="#ff0000" stroke-width="1" stroke-dasharray="3 3"/>
<g>
<line x1="1206.8" y1="740.4" x2="1433.3" y2="638.1" stroke="#ff0000" stroke-width="3.8"/>
<polygon points="1441.0,634.6 1433.6,643.7 1429.3,634.1" fill="#ff0000"/>
</g>
<text transform="translate(4.4,595) scale(0.93,1)" font-size="10" fill="#000" stroke="#000" stroke-width="0.24" text-rendering="geometricPrecision" >MACD(12,26,9) 0.006398 0.004293</text>
<line x1="1" y1="790.5" x2="1687" y2="790.5" stroke="#c0c0c0" stroke-width="1" stroke-dasharray="3 3"/>
<line x1="1" y1="841.5" x2="1687" y2="841.5" stroke="#c0c0c0" stroke-width="1" stroke-dasharray="3 3"/>
<line x1="1" y1="902.5" x2="1687" y2="902.5" stroke="#c0c0c0" stroke-width="1" stroke-dasharray="3 3"/>
<polyline points="0.5,843.1 8.5,844.3 16.5,841.6 24.5,840.6 32.5,822.5 40.5,829.2 48.5,834.4 56.5,832.3 64.5,837.1 72.5,835.4 80.5,840.6 88.5,848.3 96.5,844.3 104.5,848.3 112.5,849.3 120.5,825.6 128.5,843.1 136.5,828.5 144.5,826.5 152.5,824.4 160.5,826.1 168.5,818.4 176.5,823.4 184.5,835.0 192.5,830.2 200.5,826.5 208.5,826.3 216.5,823.4 224.5,824.4 232.5,824.4 240.5,821.3 248.5,819.4 256.5,816.7 264.5,813.6 272.5,811.5 280.5,816.7 288.5,826.5 296.5,823.4 304.5,822.3 312.5,812.6 320.5,823.4 328.5,814.4 336.5,815.7 344.5,820.9 352.5,831.5 360.5,830.2 368.5,830.4 376.5,841.6 384.5,852.4 392.5,839.1 400.5,837.1 408.5,823.4 416.5,817.3 424.5,811.3 432.5,821.9 440.5,836.4 448.5,831.7 456.5,837.1 464.5,826.5 472.5,823.4 480.5,821.3 488.5,835.2 496.5,831.2 504.5,820.4 512.5,817.8 520.5,816.3 528.5,830.2 536.5,825.6 544.5,826.5 552.5,832.9 560.5,834.4 568.5,839.1 576.5,839.1 584.5,823.4 592.5,826.5 600.5,823.6 608.5,837.1 616.5,838.3 624.5,836.4 632.5,829.6 640.5,827.5 648.5,820.4 656.5,828.3 664.5,827.3 672.5,829.4 680.5,821.3 688.5,833.3 696.5,826.3 704.5,830.2 712.5,831.5 720.5,834.4 728.5,837.3 736.5,839.3 744.5,835.4 752.5,827.1 760.5,825.4 768.5,824.4 776.5,815.3 784.5,813.4 792.5,817.3 800.5,813.2 808.5,810.5 816.5,805.7 824.5,812.6 832.5,817.3 840.5,805.3 848.5,801.6 856.5,800.3 864.5,796.6 872.5,792.2 880.5,790.3 888.5,821.3 896.5,832.3 904.5,828.5 912.5,835.4 920.5,832.3 928.5,837.1 936.5,842.0 944.5,849.3 952.5,848.3 960.5,852.2 968.5,842.0 976.5,834.4 984.5,827.3 992.5,837.3 1000.5,836.4 1008.5,841.2 1016.5,841.2 1024.5,830.4 1032.5,838.5 1040.5,846.2 1048.5,852.2 1056.5,847.2 1064.5,863.0 1072.5,867.2 1080.5,858.2 1088.5,852.4 1096.5,851.4 1104.5,853.5 1112.5,856.6 1120.5,849.9 1128.5,842.2 1136.5,842.2 1144.5,830.4 1152.5,843.1 1160.5,854.1 1168.5,855.3 1176.5,857.4 1184.5,858.4 1192.5,850.3 1200.5,849.1 1208.5,846.4 1216.5,845.2 1224.5,835.2 1232.5,839.1 1240.5,815.3 1248.5,825.2 1256.5,826.5 1264.5,841.2 1272.5,836.4 1280.5,837.3 1288.5,833.3 1296.5,832.3 1304.5,825.4 1312.5,826.5 1320.5,849.3 1328.5,847.2 1336.5,835.4 1344.5,837.3 1352.5,834.4 1360.5,837.3 1368.5,823.4 1376.5,819.2 1384.5,810.3 1392.5,810.3 1400.5,823.4 1408.5,826.3 1416.5,820.9" fill="none" stroke="#1e90ff" stroke-width="1" />
<text transform="translate(4.4,766.8) scale(0.93,1)" font-size="10" fill="#000" stroke="#000" stroke-width="0.24" text-rendering="geometricPrecision" >RSI(14) 62.7896</text>
<rect x="0" y="929" width="1" height="3" fill="#000"/>
<text transform="translate(-1,941.0) scale(0.935,1)" font-size="10" fill="#000" stroke="#000" stroke-width="0.24" text-rendering="geometricPrecision" >16 Oct 2020</text>
<rect x="64" y="929" width="1" height="3" fill="#000"/>
<text transform="translate(63,941.0) scale(0.935,1)" font-size="10" fill="#000" stroke="#000" stroke-width="0.24" text-rendering="geometricPrecision" >26 Oct 2020</text>
<rect x="128" y="929" width="1" height="3" fill="#000"/>
<text transform="translate(127,941.0) scale(0.935,1)" font-size="10" fill="#000" stroke="#000" stroke-width="0.24" text-rendering="geometricPrecision" >4 Nov 2020</text>
<rect x="192" y="929" width="1" height="3" fill="#000"/>
<text transform="translate(191,941.0) scale(0.935,1)" font-size="10" fill="#000" stroke="#000" stroke-width="0.24" text-rendering="geometricPrecision" >13 Nov 2020</text>
<rect x="256" y="929" width="1" height="3" fill="#000"/>
<text transform="translate(255,941.0) scale(0.935,1)" font-size="10" fill="#000" stroke="#000" stroke-width="0.24" text-rendering="geometricPrecision" >23 Nov 2020</text>
<rect x="320" y="929" width="1" height="3" fill="#000"/>
<text transform="translate(319,941.0) scale(0.935,1)" font-size="10" fill="#000" stroke="#000" stroke-width="0.24" text-rendering="geometricPrecision" >2 Dec 2020</text>
<rect x="384" y="929" width="1" height="3" fill="#000"/>
<text transform="translate(383,941.0) scale(0.935,1)" font-size="10" fill="#000" stroke="#000" stroke-width="0.24" text-rendering="geometricPrecision" >11 Dec 2020</text>
<rect x="448" y="929" width="1" height="3" fill="#000"/>
<text transform="translate(447,941.0) scale(0.935,1)" font-size="10" fill="#000" stroke="#000" stroke-width="0.24" text-rendering="geometricPrecision" >21 Dec 2020</text>
<rect x="512" y="929" width="1" height="3" fill="#000"/>
<text transform="translate(511,941.0) scale(0.935,1)" font-size="10" fill="#000" stroke="#000" stroke-width="0.24" text-rendering="geometricPrecision" >31 Dec 2020</text>
<rect x="576" y="929" width="1" height="3" fill="#000"/>
<text transform="translate(575,941.0) scale(0.935,1)" font-size="10" fill="#000" stroke="#000" stroke-width="0.24" text-rendering="geometricPrecision" >11 Jan 2021</text>
<rect x="640" y="929" width="1" height="3" fill="#000"/>
<text transform="translate(639,941.0) scale(0.935,1)" font-size="10" fill="#000" stroke="#000" stroke-width="0.24" text-rendering="geometricPrecision" >20 Jan 2021</text>
<rect x="704" y="929" width="1" height="3" fill="#000"/>
<text transform="translate(703,941.0) scale(0.935,1)" font-size="10" fill="#000" stroke="#000" stroke-width="0.24" text-rendering="geometricPrecision" >29 Jan 2021</text>
<rect x="768" y="929" width="1" height="3" fill="#000"/>
<text transform="translate(767,941.0) scale(0.935,1)" font-size="10" fill="#000" stroke="#000" stroke-width="0.24" text-rendering="geometricPrecision" >8 Feb 2021</text>
<rect x="832" y="929" width="1" height="3" fill="#000"/>
<text transform="translate(831,941.0) scale(0.935,1)" font-size="10" fill="#000" stroke="#000" stroke-width="0.24" text-rendering="geometricPrecision" >17 Feb 2021</text>
<rect x="896" y="929" width="1" height="3" fill="#000"/>
<text transform="translate(895,941.0) scale(0.935,1)" font-size="10" fill="#000" stroke="#000" stroke-width="0.24" text-rendering="geometricPrecision" >26 Feb 2021</text>
<rect x="960" y="929" width="1" height="3" fill="#000"/>
<text transform="translate(959,941.0) scale(0.935,1)" font-size="10" fill="#000" stroke="#000" stroke-width="0.24" text-rendering="geometricPrecision" >8 Mar 2021</text>
<rect x="1024" y="929" width="1" height="3" fill="#000"/>
<text transform="translate(1023,941.0) scale(0.935,1)" font-size="10" fill="#000" stroke="#000" stroke-width="0.24" text-rendering="geometricPrecision" >17 Mar 2021</text>
<rect x="1088" y="929" width="1" height="3" fill="#000"/>
<text transform="translate(1087,941.0) scale(0.935,1)" font-size="10" fill="#000" stroke="#000" stroke-width="0.24" text-rendering="geometricPrecision" >26 Mar 2021</text>
<rect x="1152" y="929" width="1" height="3" fill="#000"/>
<text transform="translate(1151,941.0) scale(0.935,1)" font-size="10" fill="#000" stroke="#000" stroke-width="0.24" text-rendering="geometricPrecision" >6 Apr 2021</text>
<rect x="1216" y="929" width="1" height="3" fill="#000"/>
<text transform="translate(1215,941.0) scale(0.935,1)" font-size="10" fill="#000" stroke="#000" stroke-width="0.24" text-rendering="geometricPrecision" >15 Apr 2021</text>
<rect x="1280" y="929" width="1" height="3" fill="#000"/>
<text transform="translate(1279,941.0) scale(0.935,1)" font-size="10" fill="#000" stroke="#000" stroke-width="0.24" text-rendering="geometricPrecision" >25 Apr 2021</text>
<rect x="1344" y="929" width="1" height="3" fill="#000"/>
<text transform="translate(1343,941.0) scale(0.935,1)" font-size="10" fill="#000" stroke="#000" stroke-width="0.24" text-rendering="geometricPrecision" >4 May 2021</text>
<rect x="1408" y="929" width="1" height="3" fill="#000"/>
<text transform="translate(1407,941.0) scale(0.935,1)" font-size="10" fill="#000" stroke="#000" stroke-width="0.24" text-rendering="geometricPrecision" >13 May 2021</text>
<polygon points="3,39 10,39 6.5,34" fill="#000" shape-rendering="auto"/>
<text transform="translate(15.2,38.9) scale(0.936,1)" font-size="10" fill="#000" stroke="#000" stroke-width="0.24" text-rendering="geometricPrecision" xml:space="preserve">GBPUSD-,Daily  1.40446 1.41097 1.40352 1.40999</text>
</svg>
<div class="abs" style="left:0;top:0;width:1734px;height:23px;background:#f0f0f0"></div>
<div class="abs" style="left:0;top:23px;width:1734px;height:1px;background:#b4b4b4"></div>
<div class="abs" style="left:0;top:24px;width:1734px;height:1px;background:#6e6e6e"></div>
<svg width="1734" height="23" viewBox="0 0 1734 23" style="position:absolute;left:0;top:0" font-family="Liberation Sans, sans-serif">
<defs><linearGradient id="gp" x1="0" y1="0" x2="0" y2="1"><stop offset="0" stop-color="#74f074"/><stop offset="0.5" stop-color="#2ccc2c"/><stop offset="1" stop-color="#0aa00a"/></linearGradient><linearGradient id="gold" x1="0" y1="0" x2="1" y2="1"><stop offset="0" stop-color="#f8e070"/><stop offset="1" stop-color="#c08810"/></linearGradient><linearGradient id="lens" x1="0" y1="0" x2="0" y2="1"><stop offset="0" stop-color="#e8f4fc"/><stop offset="1" stop-color="#b8d8f0"/></linearGradient><linearGradient id="clk" x1="0" y1="0" x2="0" y2="1"><stop offset="0" stop-color="#3a8af0"/><stop offset="1" stop-color="#0a48b0"/></linearGradient><linearGradient id="badge" x1="0" y1="0" x2="0" y2="1"><stop offset="0" stop-color="#ea5a38"/><stop offset="1" stop-color="#d81c0c"/></linearGradient><linearGradient id="tbl" x1="0" y1="0" x2="0" y2="1"><stop offset="0" stop-color="#2a60dc"/><stop offset="1" stop-color="#1030a0"/></linearGradient><linearGradient id="tgr" x1="0" y1="0" x2="0" y2="1"><stop offset="0" stop-color="#3ea414"/><stop offset="1" stop-color="#287e06"/></linearGradient></defs>
<rect x="-4" y="4.7" width="14.3" height="12.6" rx="1.2" fill="#fff" stroke="#3a78c8" stroke-width="1.3"/>
<path d="M0 6.8h9M0 9.4h9M0 12.6h9M0 15.2h9" stroke="#c8d8f4" stroke-width="0.8"/>
<circle cx="0.9" cy="9.4" r="1.5" fill="#000"/><circle cx="1.3" cy="9.4" r="0.55" fill="#fff"/><rect x="0" y="6" width="1" height="1" fill="#f00"/><rect x="0" y="12.2" width="1" height="1" fill="#f00"/>
<rect x="23.6" y="3.5" width="12" height="13" rx="0.8" fill="#ececec" stroke="#b4ac98" stroke-width="1"/>
<path d="M26.5 5v7M28.8 6v8M31.4 5.2v8M33.5 5v6M25.5 7.2h2M32.5 7h2" stroke="#8a8a8a" stroke-width="0.9"/>
<path d="M35.2 16.2L39.8 19.3" stroke="#b88a18" stroke-width="2.8" stroke-linecap="round"/><path d="M35.4 16L39.6 19" stroke="#e0b830" stroke-width="1.4" stroke-linecap="round"/>
<circle cx="31.4" cy="12.5" r="5.1" fill="#c4dcf4" fill-opacity="0.82" stroke="#6a98dc" stroke-width="1.2"/>
<rect x="48" y="0" width="1" height="21" fill="#a0a0a0" shape-rendering="crispEdges"/><rect x="49" y="0" width="1" height="21" fill="#fcfcfc" shape-rendering="crispEdges"/>
<path d="M58.5 3.5h8.0l3.5 3.5v9.5h-11.5z" fill="#fdfdfd" stroke="#6a6a6a" stroke-width="1"/>
<path d="M66.5 3.5v3.5h3.5" fill="#e0e0e0" stroke="#6a6a6a" stroke-width="0.8"/>
<path d="M60.7 6.5h2.6" stroke="#505050" stroke-width="1.2"/>
<path d="M60.7 9.3h6.5M60.7 11.4h6.5M60.7 13.5h6.5" stroke="#9a9a9a" stroke-width="0.9"/>
<path d="M66.1 9.3h3.8v3.9h3.9v3.8h-3.9v3.9h-3.8v-3.9h-3.9v-3.8h3.9z" fill="url(#gp)" stroke="#0a7a0a" stroke-width="0.9"/>
<text x="76.3" y="13.9" font-family="Liberation Sans, Noto Sans CJK SC, sans-serif" font-size="12.5" fill="#000">新订单</text>
<path d="M124.8 12.3L133.9 17.7L141.2 12.1V13.6L133.9 19.3L124.8 13.8z" fill="#b07a14" stroke="#8a5a08" stroke-width="0.8"/>
<path d="M126 13.6L133.9 18.4L140.4 13.2" fill="none" stroke="#f4e6b0" stroke-width="0.7"/>
<path d="M130.6 4.1L141.2 12.1L133.9 17.7L124.8 12.3z" fill="url(#gold)" stroke="#a06c10" stroke-width="0.9"/>
<path d="M130.4 5.4L126.4 12" stroke="#fff8d0" stroke-width="1.1" opacity="0.75"/>
<path d="M155.4 3.2h8.2l2.4 1.6v7.6h-10.6z" fill="#2a98ff" stroke="#1a70d8" stroke-width="0.9"/><path d="M156.5 4l2.6 1.8v7.6" fill="none" stroke="#bfe0ff" stroke-width="0.9"/><rect x="160.2" y="7" width="4.2" height="1.3" fill="#d8ecff"/><rect x="160.2" y="9.4" width="3" height="1" fill="#9accff"/>
<path d="M156 18.6c-3.8 0-3.9-4.3-0.8-4.7c0.2-2.9 4.2-3.5 5.4-1.3c1.5-1.7 4.8-0.8 4.8 1.6c3.5-0.2 3.8 4.4 0.4 4.4z" fill="#eef2fa" stroke="#6482b4" stroke-width="1"/>
<g fill="none" stroke-width="1.1">
<circle cx="189.1" cy="10.9" r="7.7" stroke="#a8c0e8" opacity="0.9"/><circle cx="189.1" cy="10.9" r="5" stroke="#4a78d8" stroke-width="1.5"/>
</g>
<path d="M189.1 10.9L189.1 18.9A8 8 0 0 0 197 10.9A7.9 7.9 0 0 0 193 4z" fill="#58b058" opacity="0.45"/>
<circle cx="189.1" cy="10.9" r="1.4" fill="#2858c8"/><path d="M189.3 11.4V19" stroke="#18a018" stroke-width="1.3"/>
<path d="M209.2 10.4L222.8 10.4L218.6 18.4L213.8 18.4z" fill="#f4dc58" stroke="#d4a820" stroke-width="0.9"/>
<ellipse cx="216" cy="8.6" rx="7.8" ry="2.7" fill="#58a8dc" stroke="#3a84c0" stroke-width="0.9"/><ellipse cx="216" cy="6.2" rx="3.9" ry="3" fill="#6cb8e8" stroke="#3a84c0" stroke-width="0.8"/>
<circle cx="220.4" cy="14.7" r="4.1" fill="#e02810" stroke="#b01808" stroke-width="0.8"/><rect x="219" y="13.3" width="2.8" height="2.8" fill="#fff"/>
<text x="228.3" y="13.9" font-family="Liberation Sans, Noto Sans CJK SC, sans-serif" font-size="12.5" fill="#000">自动交易</text>
<rect x="284" y="0" width="1" height="22" fill="#a0a0a0" shape-rendering="crispEdges"/><rect x="285" y="0" width="1" height="22" fill="#fcfcfc" shape-rendering="crispEdges"/>
<rect x="288" y="2" width="3" height="1" fill="#a8a8a8" shape-rendering="crispEdges"/>
<rect x="288" y="4" width="3" height="1" fill="#a8a8a8" shape-rendering="crispEdges"/>
<rect x="288" y="6" width="3" height="1" fill="#a8a8a8" shape-rendering="crispEdges"/>
<rect x="288" y="8" width="3" height="1" fill="#a8a8a8" shape-rendering="crispEdges"/>
<rect x="288" y="10" width="3" height="1" fill="#a8a8a8" shape-rendering="crispEdges"/>
<rect x="288" y="12" width="3" height="1" fill="#a8a8a8" shape-rendering="crispEdges"/>
<rect x="288" y="14" width="3" height="1" fill="#a8a8a8" shape-rendering="crispEdges"/>
<rect x="288" y="16" width="3" height="1" fill="#a8a8a8" shape-rendering="crispEdges"/>
<rect x="288" y="18" width="3" height="1" fill="#a8a8a8" shape-rendering="crispEdges"/>
<path d="M302.2 18.7V5.6M299.7 16.4H313.2" stroke="#606060" stroke-width="1.2" fill="none"/>
<path d="M302.2 4.8l-2 2.6h4zM314.4 16.4l-2.6-2v4z" fill="#606060"/>
<path d="M308.4 6.6V14.4M308.4 7.2h2.6M308.4 13.6h-2.6" stroke="#109010" stroke-width="1.4" fill="none"/>
<rect x="322" y="0" width="24" height="21" fill="#f7f7f7" shape-rendering="crispEdges"/><rect x="322" y="0" width="1" height="21" fill="#a0a0a0" shape-rendering="crispEdges"/><rect x="346" y="0" width="1" height="21" fill="#ffffff" shape-rendering="crispEdges"/><rect x="322" y="21" width="25" height="1" fill="#ffffff" shape-rendering="crispEdges"/>
<path d="M330.5 18.7V5.6M328.0 16.4H341.5" stroke="#606060" stroke-width="1.2" fill="none"/>
<path d="M330.5 4.8l-2 2.6h4zM342.7 16.4l-2.6-2v4z" fill="#606060"/>
<path d="M336.6 3.2V14.8" stroke="#0a800a" stroke-width="1.2"/><rect x="334.4" y="5.9" width="4.4" height="6.6" fill="#30d830" stroke="#0a800a" stroke-width="1"/>
<path d="M358.6 18.7V5.6M356.1 16.4H369.6" stroke="#606060" stroke-width="1.2" fill="none"/>
<path d="M358.6 4.8l-2 2.6h4zM370.8 16.4l-2.6-2v4z" fill="#606060"/>
<path d="M357.2 13.6C359.5 11.5 361 7.8 363.4 8.1C365.5 8.4 366.5 11 369 12" stroke="#209020" stroke-width="1.4" fill="none"/>
<rect x="379" y="0" width="1" height="21" fill="#a0a0a0" shape-rendering="crispEdges"/><rect x="380" y="0" width="1" height="21" fill="#fcfcfc" shape-rendering="crispEdges"/>
<path d="M398.2 13.9L403.2 18" stroke="#a88018" stroke-width="3.2" stroke-linecap="round"/><path d="M398.2 13.7L403 17.6" stroke="#ecc838" stroke-width="1.7" stroke-linecap="round"/>
<circle cx="394" cy="9" r="5.5" fill="url(#lens)" stroke="#3c80cc" stroke-width="1.3"/>
<path d="M390.8 9h6.4" stroke="#3c88b4" stroke-width="2"/>
<path d="M394 5.8v6.4" stroke="#3c88b4" stroke-width="2"/>
<path d="M426.09999999999997 13.9L431.09999999999997 18" stroke="#a88018" stroke-width="3.2" stroke-linecap="round"/><path d="M426.09999999999997 13.7L430.9 17.6" stroke="#ecc838" stroke-width="1.7" stroke-linecap="round"/>
<circle cx="421.9" cy="9" r="5.5" fill="url(#lens)" stroke="#3c80cc" stroke-width="1.3"/>
<path d="M418.7 9h6.4" stroke="#3c88b4" stroke-width="2"/>
<rect x="444.3" y="3.2" width="7.7" height="7.6" fill="url(#tgr)"/><rect x="445.5" y="6.6" width="5.3" height="2.7" fill="#fff"/><rect x="445.3" y="4.2" width="1" height="1" fill="#fff" opacity="0.8"/><rect x="446.6" y="7.6000000000000005" width="3.1" height="0.9" fill="#8cc870"/>
<rect x="452.2" y="3.2" width="7.7" height="7.6" fill="url(#tbl)"/><rect x="453.4" y="6.6" width="5.3" height="2.7" fill="#fff"/><rect x="453.2" y="4.2" width="1" height="1" fill="#fff" opacity="0.8"/><rect x="454.5" y="7.6000000000000005" width="3.1" height="0.9" fill="#88a8e8"/>
<rect x="444.3" y="11" width="7.7" height="7.6" fill="url(#tbl)"/><rect x="445.5" y="14.4" width="5.3" height="2.7" fill="#fff"/><rect x="445.3" y="12" width="1" height="1" fill="#fff" opacity="0.8"/><rect x="446.6" y="15.4" width="3.1" height="0.9" fill="#88a8e8"/>
<rect x="452.2" y="11" width="7.7" height="7.6" fill="url(#tgr)"/><rect x="453.4" y="14.4" width="5.3" height="2.7" fill="#fff"/><rect x="453.2" y="12" width="1" height="1" fill="#fff" opacity="0.8"/><rect x="454.5" y="15.4" width="3.1" height="0.9" fill="#8cc870"/>
<rect x="469" y="0" width="1" height="21" fill="#a0a0a0" shape-rendering="crispEdges"/><rect x="470" y="0" width="1" height="21" fill="#fcfcfc" shape-rendering="crispEdges"/>
<rect x="474" y="0" width="24" height="21" fill="#f7f7f7" shape-rendering="crispEdges"/><rect x="474" y="0" width="1" height="21" fill="#a0a0a0" shape-rendering="crispEdges"/><rect x="498" y="0" width="1" height="21" fill="#ffffff" shape-rendering="crispEdges"/><rect x="474" y="21" width="25" height="1" fill="#ffffff" shape-rendering="crispEdges"/>
<path d="M482.6 18.7V5.6M480.1 16.4H493.6" stroke="#606060" stroke-width="1.2" fill="none"/>
<path d="M482.6 4.8l-2 2.6h4zM494.8 16.4l-2.6-2v4z" fill="#606060"/>
<path d="M487.4 7.2V13.8L491 10.5z" fill="#90e890" stroke="#18a018" stroke-width="1.1"/>
<rect x="502" y="0" width="24" height="21" fill="#f7f7f7" shape-rendering="crispEdges"/><rect x="502" y="0" width="1" height="21" fill="#a0a0a0" shape-rendering="crispEdges"/><rect x="526" y="0" width="1" height="21" fill="#ffffff" shape-rendering="crispEdges"/><rect x="502" y="21" width="25" height="1" fill="#ffffff" shape-rendering="crispEdges"/>
<path d="M510.5 18.7V5.6M508.0 16.4H521.5" stroke="#606060" stroke-width="1.2" fill="none"/>
<path d="M510.5 4.8l-2 2.6h4zM522.7 16.4l-2.6-2v4z" fill="#606060"/>
<path d="M516.5 4.9V14.6" stroke="#2464a4" stroke-width="1.4"/><path d="M522 10.5H518.6" stroke="#e04808" stroke-width="1.3"/><path d="M517.4 10.5l3-2.4v4.8z" fill="#e04808"/>
<rect x="531" y="0" width="1" height="21" fill="#a0a0a0" shape-rendering="crispEdges"/><rect x="532" y="0" width="1" height="21" fill="#fcfcfc" shape-rendering="crispEdges"/>
<path d="M541.8 3.6h7.1l3.5 3.5v8.9h-10.6z" fill="#fdfdfd" stroke="#6a6a6a" stroke-width="1"/>
<path d="M548.9 3.6v3.5h3.5" fill="#e0e0e0" stroke="#6a6a6a" stroke-width="0.8"/>
<path d="M545 7.5c-1.2 0-1.2 1.8-1.2 2.6s0 2.6 1.2 2.6" stroke="#6a5a30" stroke-width="0.9" fill="none"/>
<path d="M549.2 8.899999999999999h3.8v3.9h3.9v3.8h-3.9v3.9h-3.8v-3.9h-3.9v-3.8h3.9z" fill="url(#gp)" stroke="#0a7a0a" stroke-width="0.9"/>
<polygon points="563,10 568.4,10 565.7,13.2" fill="#000"/>
<circle cx="586.9" cy="10.9" r="6.7" fill="#fff" stroke="url(#clk)" stroke-width="2.9"/>
<circle cx="586.9" cy="10.9" r="4.9" fill="#f4f8ff" stroke="#a8c0e4" stroke-width="0.6"/><path d="M586.6 6.8V11.2H590" stroke="#202020" stroke-width="1.1" fill="none"/><circle cx="586.9" cy="15" r="0.6" fill="#6aa0e8"/>
<polygon points="601.7,10 607.1,10 604.4000000000001,13.2" fill="#000"/>
<rect x="618.4" y="4.4" width="15.4" height="13.4" rx="0.8" fill="#fff" stroke="#3c7cd0" stroke-width="1.2"/><rect x="618.8" y="4.6" width="14.6" height="2.4" fill="#5c9ce8"/>
<path d="M619 12.1h14.4" stroke="#3c7cd0" stroke-width="1"/>
<path d="M620.6 10.4h1.8l1.6-1.4h1.6l1.4 0.8h1.8l1.6-1.4h1.6" stroke="#b02010" stroke-width="1.2" fill="none"/>
<path d="M621.2 15.6h1.8l1.4-1h1.6l1.4 1h1.2l1.8-2l1.8 2" stroke="#189018" stroke-width="1.2" fill="none"/>
<polygon points="640.8,10 646.1999999999999,10 643.5,13.2" fill="#000"/>
<rect x="652" y="0" width="1" height="22" fill="#a0a0a0" shape-rendering="crispEdges"/><rect x="653" y="0" width="1" height="22" fill="#fcfcfc" shape-rendering="crispEdges"/>
<rect x="656" y="2" width="3" height="1" fill="#a8a8a8" shape-rendering="crispEdges"/>
<rect x="656" y="4" width="3" height="1" fill="#a8a8a8" shape-rendering="crispEdges"/>
<rect x="656" y="6" width="3" height="1" fill="#a8a8a8" shape-rendering="crispEdges"/>
<rect x="656" y="8" width="3" height="1" fill="#a8a8a8" shape-rendering="crispEdges"/>
<rect x="656" y="10" width="3" height="1" fill="#a8a8a8" shape-rendering="crispEdges"/>
<rect x="656" y="12" width="3" height="1" fill="#a8a8a8" shape-rendering="crispEdges"/>
<rect x="656" y="14" width="3" height="1" fill="#a8a8a8" shape-rendering="crispEdges"/>
<rect x="656" y="16" width="3" height="1" fill="#a8a8a8" shape-rendering="crispEdges"/>
<rect x="656" y="18" width="3" height="1" fill="#a8a8a8" shape-rendering="crispEdges"/>
<rect x="662" y="0" width="24" height="21" fill="#f7f7f7" shape-rendering="crispEdges"/><rect x="662" y="0" width="1" height="21" fill="#a0a0a0" shape-rendering="crispEdges"/><rect x="686" y="0" width="1" height="21" fill="#ffffff" shape-rendering="crispEdges"/><rect x="662" y="21" width="25" height="1" fill="#ffffff" shape-rendering="crispEdges"/>
<path d="M670.3 3.6V14.8L673.1 12.6L675.4 17.8L677 17.1L674.7 12L678.4 11.7z" fill="#4a4a4a"/>
<path d="M695 11.5H701M704 11.5H710M702.5 4V10M702.5 13V19" stroke="#505050" stroke-width="1" fill="none" shape-rendering="crispEdges"/><rect x="702" y="11" width="1" height="1" fill="#808080"/>
<rect x="719" y="0" width="1" height="21" fill="#a0a0a0" shape-rendering="crispEdges"/><rect x="720" y="0" width="1" height="21" fill="#fcfcfc" shape-rendering="crispEdges"/>
<path d="M736.5 5V18" stroke="#505050" stroke-width="1" shape-rendering="crispEdges"/>
<path d="M759 11.5H771" stroke="#505050" stroke-width="1" shape-rendering="crispEdges"/>
<path d="M786.9 18L799.2 5.9" stroke="#505050" stroke-width="1"/>
<path d="M813.2 13.2L822.6 4.6M814.4 16.4L825.6 6.2M816.6 17.6L825.8 9.2" stroke="#505050" stroke-width="0.9"/><path d="M815 11.6l1.6 5.2M817.6 9.2l2 5.6M820.4 6.8l2 5.4M823.2 3.6l1.4 5.6" stroke="#505050" stroke-width="0.8"/>
<text x="823.8" y="20" font-size="6.5" font-weight="bold" fill="#303030">E</text>
<path d="M842 4.5H855" stroke="#505050" stroke-width="1" stroke-dasharray="1 1" shape-rendering="crispEdges"/>
<path d="M842 7.9H855" stroke="#505050" stroke-width="1" stroke-dasharray="1 1" shape-rendering="crispEdges"/>
<path d="M842 11.5H855" stroke="#505050" stroke-width="1" stroke-dasharray="1 1" shape-rendering="crispEdges"/>
<path d="M842 15.9H851" stroke="#505050" stroke-width="1" stroke-dasharray="1 1" shape-rendering="crispEdges"/>
<text x="851.6" y="20" font-size="6.5" font-weight="bold" fill="#303030">F</text>
<text x="872.6" y="16.3" font-size="12.6" fill="#585858" stroke="#585858" stroke-width="0.15">A</text>
<rect x="899.3" y="5.3" width="11" height="12.4" fill="none" stroke="#505050" stroke-width="1" stroke-dasharray="1 1" shape-rendering="crispEdges"/><rect x="898.6" y="4.4" width="2" height="1.4" fill="#505050"/>
<path d="M901.4 8.5h7.4M905.1 8.5V16" stroke="#505050" stroke-width="1.5" fill="none"/>
<path d="M929.6 4.8l2.7 2.6l-2.7 2.6l-2.7-2.6z" fill="#505050"/><path d="M936.3 12.4l3 2.7l-3 2.9l-3-2.9z" fill="#505050"/>
<path d="M927.6 12.4l1.8 1.9l3.4-4.2" stroke="#505050" stroke-width="1.3" fill="none"/><path d="M931.4 9.6l3 3.4" stroke="#505050" stroke-width="1.2"/>
<polygon points="946.9,10 952.3,10 949.6,13.2" fill="#000"/>
<rect x="958" y="0" width="1" height="22" fill="#a0a0a0" shape-rendering="crispEdges"/><rect x="959" y="0" width="1" height="22" fill="#fcfcfc" shape-rendering="crispEdges"/>
<rect x="962" y="2" width="3" height="1" fill="#a8a8a8" shape-rendering="crispEdges"/>
<rect x="962" y="4" width="3" height="1" fill="#a8a8a8" shape-rendering="crispEdges"/>
<rect x="962" y="6" width="3" height="1" fill="#a8a8a8" shape-rendering="crispEdges"/>
<rect x="962" y="8" width="3" height="1" fill="#a8a8a8" shape-rendering="crispEdges"/>
<rect x="962" y="10" width="3" height="1" fill="#a8a8a8" shape-rendering="crispEdges"/>
<rect x="962" y="12" width="3" height="1" fill="#a8a8a8" shape-rendering="crispEdges"/>
<rect x="962" y="14" width="3" height="1" fill="#a8a8a8" shape-rendering="crispEdges"/>
<rect x="962" y="16" width="3" height="1" fill="#a8a8a8" shape-rendering="crispEdges"/>
<rect x="962" y="18" width="3" height="1" fill="#a8a8a8" shape-rendering="crispEdges"/>
<rect x="1136" y="0" width="25" height="21" fill="#f7f7f7" shape-rendering="crispEdges"/><rect x="1136" y="0" width="1" height="21" fill="#a0a0a0" shape-rendering="crispEdges"/><rect x="1161" y="0" width="1" height="21" fill="#ffffff" shape-rendering="crispEdges"/><rect x="1136" y="21" width="26" height="1" fill="#ffffff" shape-rendering="crispEdges"/>
<text transform="translate(973.8000000000001,15.1) scale(0.955,1)" font-size="9.6" fill="#404040">M1</text>
<text transform="translate(1001.8000000000001,15.1) scale(0.955,1)" font-size="9.6" fill="#404040">M5</text>
<text transform="translate(1027.8,15.1) scale(0.955,1)" font-size="9.6" fill="#404040">M15</text>
<text transform="translate(1055.8999999999999,15.1) scale(0.955,1)" font-size="9.6" fill="#404040">M30</text>
<text transform="translate(1087.0,15.1) scale(0.955,1)" font-size="9.6" fill="#404040">H1</text>
<text transform="translate(1113.8999999999999,15.1) scale(0.955,1)" font-size="9.6" fill="#404040">H4</text>
<text transform="translate(1142.6,15.1) scale(0.955,1)" font-size="9.6" fill="#404040">D1</text>
<text transform="translate(1170.3,15.1) scale(0.955,1)" font-size="9.6" fill="#404040">W1</text>
<text transform="translate(1196.8,15.1) scale(0.955,1)" font-size="9.6" fill="#404040">MN</text>
<rect x="1219" y="0" width="1" height="21" fill="#a0a0a0" shape-rendering="crispEdges"/><rect x="1220" y="0" width="1" height="21" fill="#fcfcfc" shape-rendering="crispEdges"/>
<path d="M1686.2 11.5L1682.3 15.7" stroke="#2460d0" stroke-width="2.6" stroke-linecap="round"/><circle cx="1689.4" cy="8.3" r="3.9" fill="#f4f6fc" stroke="#2864d8" stroke-width="1.3"/>
<path d="M1709.8 17.4l-0.4 2.4l2.6-2z" fill="#a0a0a8"/><ellipse cx="1712" cy="13.1" rx="5.7" ry="4.6" fill="#e2e2ea" stroke="#a4a4ac" stroke-width="0.9"/><ellipse cx="1712" cy="11.4" rx="4.6" ry="2.4" fill="#f6f6fa" opacity="0.9"/>
<circle cx="1720.4" cy="8.3" r="8.1" fill="url(#badge)"/>
<text x="1720.4" y="12.7" font-size="12.4" font-family="Liberation Serif, serif" font-weight="bold" fill="#fff" text-anchor="middle">1</text>
</svg>
<svg width="230" height="70" viewBox="0 44 230 70" style="position:absolute;left:0;top:44px" font-family="Liberation Sans, sans-serif">
<defs><linearGradient id="ptab" x1="0" y1="0" x2="0" y2="1"><stop offset="0" stop-color="#fc5252"/><stop offset="1" stop-color="#e03232"/></linearGradient><linearGradient id="pmain" x1="0" y1="0" x2="0" y2="1"><stop offset="0" stop-color="#de3030"/><stop offset="0.55" stop-color="#c81818"/><stop offset="1" stop-color="#ae0202"/></linearGradient><linearGradient id="pbtn" x1="0" y1="0" x2="0" y2="1"><stop offset="0" stop-color="#f6f6f6"/><stop offset="0.45" stop-color="#e6e6e6"/><stop offset="0.5" stop-color="#d8d8d8"/><stop offset="1" stop-color="#cecece"/></linearGradient></defs>
<rect x="2" y="45" width="222" height="67" fill="#fff" shape-rendering="crispEdges"/>
<rect x="3" y="71" width="109" height="40" fill="#a80404" shape-rendering="crispEdges"/>
<rect x="4" y="72" width="107" height="38" fill="url(#pmain)" shape-rendering="crispEdges"/>
<rect x="114" y="71" width="108" height="40" fill="#a80404" shape-rendering="crispEdges"/>
<rect x="115" y="72" width="106" height="38" fill="url(#pmain)" shape-rendering="crispEdges"/>
<rect x="3" y="47" width="52" height="25" fill="#c41414" shape-rendering="crispEdges"/>
<rect x="4" y="48" width="50" height="24" fill="url(#ptab)" shape-rendering="crispEdges"/>
<rect x="170" y="47" width="52" height="25" fill="#c41414" shape-rendering="crispEdges"/>
<rect x="171" y="48" width="50" height="24" fill="url(#ptab)" shape-rendering="crispEdges"/>
<rect x="4" y="71" width="50" height="1" fill="#e03232" shape-rendering="crispEdges"/><rect x="171" y="71" width="50" height="1" fill="#e03232" shape-rendering="crispEdges"/>
<rect x="7" y="70" width="44" height="1" fill="#8c0000" shape-rendering="crispEdges"/><rect x="7" y="71" width="44" height="1" fill="#ee5a5a" shape-rendering="crispEdges"/>
<rect x="174" y="70" width="44" height="1" fill="#8c0000" shape-rendering="crispEdges"/><rect x="174" y="71" width="44" height="1" fill="#ee5a5a" shape-rendering="crispEdges"/>
<rect x="57" y="47" width="111" height="22" fill="#a4a8b0" shape-rendering="crispEdges"/><rect x="58" y="48" width="109" height="20" fill="#fff" shape-rendering="crispEdges"/>
<rect x="58" y="48" width="20" height="20" fill="url(#pbtn)" shape-rendering="crispEdges"/><rect x="78" y="48" width="1" height="20" fill="#a4a8b0" shape-rendering="crispEdges"/>
<rect x="147" y="48" width="20" height="20" fill="url(#pbtn)" shape-rendering="crispEdges"/><rect x="146" y="48" width="1" height="20" fill="#a4a8b0" shape-rendering="crispEdges"/>
<path d="M65.2 56.4h4.8l-2.4 2.6z" fill="#4464c4"/><path d="M154.4 58.8h4.8l-2.4-2.6z" fill="#4464c4"/>
<text x="143.2" y="62" font-size="12.3" text-anchor="end" fill="#000">1.00</text>
<text transform="translate(14.9,62.7) scale(0.92,1)" font-size="11.4" fill="#fff">SELL</text>
<text transform="translate(183,62.7) scale(1,1)" font-size="11.4" fill="#fff">BUY</text>
<text x="22.6" y="101.9" font-size="12.3" font-weight="bold" fill="#fff">1.40</text>
<text transform="translate(50.2,102.3) scale(0.93,1)" font-size="33.5" fill="#fff">99</text>
<text x="89.7" y="85.9" font-size="11.4" font-weight="bold" fill="#fff">9</text>
<text x="133" y="101.9" font-size="12.3" font-weight="bold" fill="#fff">1.41</text>
<text transform="translate(160.4,102.3) scale(0.93,1)" font-size="33.5" fill="#fff">02</text>
<text x="200.5" y="85.9" font-size="11.4" font-weight="bold" fill="#fff">2</text>
</svg>
</body></html>
